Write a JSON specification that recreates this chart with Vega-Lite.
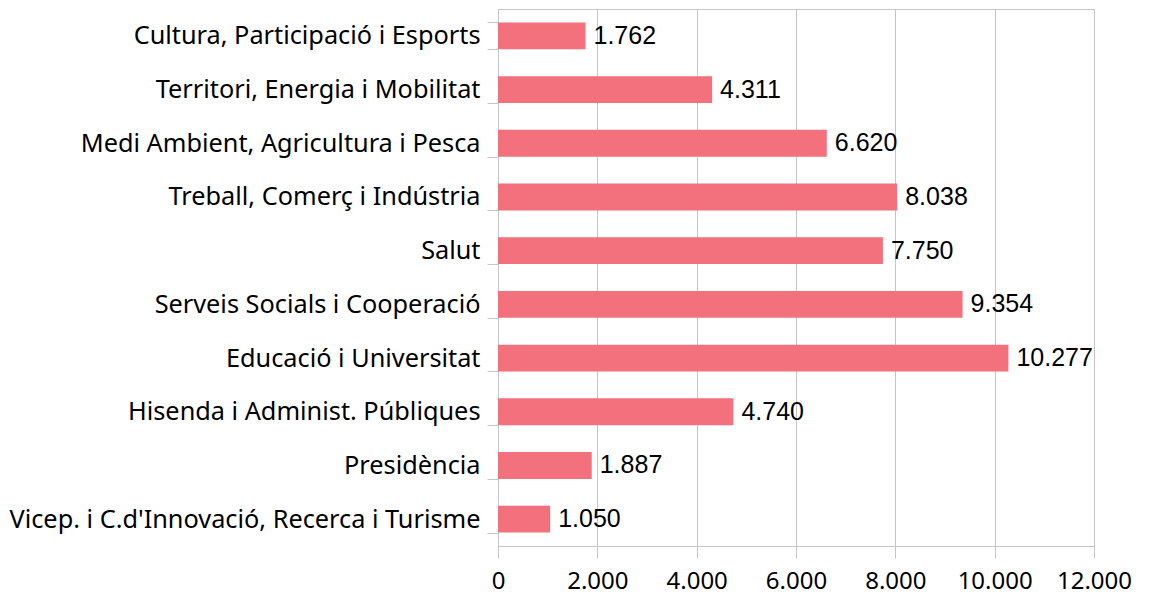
{
  "$schema": "https://vega.github.io/schema/vega-lite/v6.json",
  "autosize": "none",
  "width": 596,
  "height": 537,
  "padding": {"left": 498, "top": 9, "right": 56, "bottom": 53},
  "background": "white",
  "data": {"values": [
    {"dept": "Cultura, Participació i Esports", "value": 1762},
    {"dept": "Territori, Energia i Mobilitat", "value": 4311},
    {"dept": "Medi Ambient, Agricultura i Pesca", "value": 6620},
    {"dept": "Treball, Comerç i Indústria", "value": 8038},
    {"dept": "Salut", "value": 7750},
    {"dept": "Serveis Socials i Cooperació", "value": 9354},
    {"dept": "Educació i Universitat", "value": 10277},
    {"dept": "Hisenda i Administ. Públiques", "value": 4740},
    {"dept": "Presidència", "value": 1887},
    {"dept": "Vicep. i C.d'Innovació, Recerca i Turisme", "value": 1050}
  ]},
  "encoding": {
    "y": {
      "field": "dept", "type": "nominal", "sort": null, "title": null,
      "scale": {"paddingInner": 0.5, "paddingOuter": 0.25},
      "axis": {
        "tickBand": "extent", "tickSize": 11, "tickColor": "#c6c6c6", "domainColor": "#c6c6c6",
        "labelFont": "Noto Sans", "labelFontSize": 25.3, "labelColor": "#000000",
        "labelPadding": 7, "labelLimit": 600, "grid": false
      }
    },
    "x": {
      "field": "value", "type": "quantitative", "title": null,
      "scale": {"domain": [0, 12000], "nice": false},
      "axis": {
        "values": [0, 2000, 4000, 6000, 8000, 10000, 12000],
        "labelExpr": "replace(format(datum.value, ','), ',', '.')",
        "grid": true, "gridColor": "#c6c6c6", "tickColor": "#c6c6c6", "domainColor": "#c6c6c6",
        "tickSize": 12, "labelFont": "Noto Sans", "labelFontSize": 24, "labelColor": "#000000",
        "labelPadding": 11, "labelFlush": false
      }
    }
  },
  "layer": [
    {"mark": {"type": "bar", "color": "#f3707d"}},
    {
      "mark": {"type": "text", "align": "left", "baseline": "middle", "dx": 8, "font": "Liberation Sans, Arial, sans-serif", "fontSize": 25, "color": "#000000"},
      "encoding": {"text": {"field": "value", "type": "quantitative", "format": ",.0f"}}
    }
  ],
  "config": {
    "view": {"stroke": "#c6c6c6"},
    "locale": {"number": {"decimal": ",", "thousands": ".", "grouping": [3], "currency": ["", " €"]}}
  }
}
